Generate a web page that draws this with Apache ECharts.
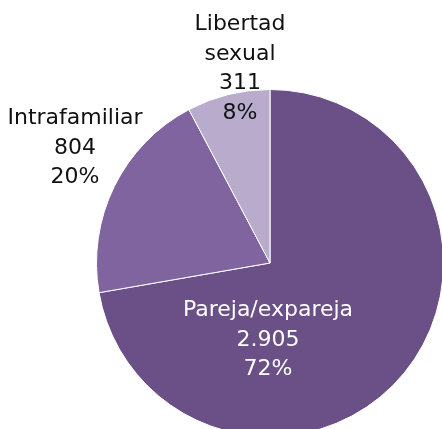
<!DOCTYPE html>
<html>
<head>
<meta charset="utf-8">
<script src="https://cdn.jsdelivr.net/npm/echarts@6/dist/echarts.min.js"></script>
<style>
  html, body { margin: 0; padding: 0; background: #ffffff; }
  #chart { width: 442px; height: 429px; }
</style>
</head>
<body>
<div id="chart"></div>
<script>
// Casos por tipo de violencia
const categories = ['Pareja/expareja', 'Intrafamiliar', 'Libertad sexual'];
const labelNames = ['Pareja/expareja', 'Intrafamiliar', 'Libertad\nsexual'];
const values = [2905, 804, 311];
const colors = ['#6a5087', '#7f64a0', '#b8abcb'];

// Label anchor points (center of each text block)
const labelAnchors = [
  { x: 268, y: 340, color: '#ffffff' },
  { x: 75, y: 148, color: '#111111' },
  { x: 240, y: 69, color: '#111111' }
];

const total = values.reduce((a, b) => a + b, 0);
const fmt = v => String(v).replace(/\B(?=(\d{3})+(?!\d))/g, '.');

const chart = echarts.init(document.getElementById('chart'), null, { renderer: 'canvas' });
chart.setOption({
  animation: false,
  series: [{
    type: 'pie',
    center: [270, 263],
    radius: 173.5,
    startAngle: 90,
    clockwise: true,
    itemStyle: { borderColor: '#ffffff', borderWidth: 1 },
    data: categories.map((c, i) => ({
      name: c,
      value: values[i],
      itemStyle: { color: colors[i] },
      label: { color: labelAnchors[i].color }
    })),
    label: {
      show: true,
      position: 'inside',
      fontFamily: 'DejaVu Sans',
      fontSize: 22,
      lineHeight: 29.5,
      align: 'center',
      formatter: p => labelNames[p.dataIndex] + '\n' + fmt(p.value) + '\n' + Math.round(p.value / total * 100) + '%'
    },
    labelLine: { show: false },
    labelLayout: p => ({
      x: labelAnchors[p.dataIndex].x,
      y: labelAnchors[p.dataIndex].y,
      align: 'center',
      verticalAlign: 'middle'
    })
  }]
});
</script>
</body>
</html>
